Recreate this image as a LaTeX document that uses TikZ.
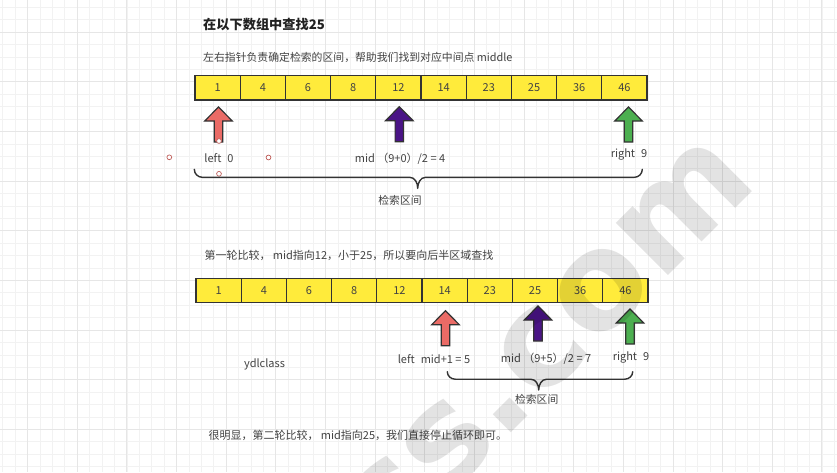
\documentclass[tikz,border=0pt]{standalone}
\usepackage{fontspec}
\setmainfont{Noto Sans CJK SC}
\newfontfamily\wmfont{DejaVu Sans}
\definecolor{minorc}{HTML}{F2F2F2}
\definecolor{majorc}{HTML}{E6E6E6}
\definecolor{linec}{HTML}{333333}
\definecolor{txtc}{HTML}{424242}
\definecolor{titlec}{HTML}{222222}
\definecolor{cellc}{HTML}{FFEB3B}
\definecolor{redc}{HTML}{EA6B66}
\definecolor{purc}{HTML}{4A1486}
\definecolor{grnc}{HTML}{4CAF50}
\definecolor{handlec}{HTML}{C0605C}
\begin{document}
\begin{tikzpicture}[x=1pt,y=-1pt,
  minorl/.style={draw=minorc, line width=0.9pt},
  majorl/.style={draw=majorc, line width=1pt},
  cell/.style={draw=linec, line width=1.3pt, fill=cellc, minimum width=45.2pt, minimum height=24.5pt, inner sep=0pt, text=txtc, font=\fontsize{11}{13}\selectfont},
  txt/.style={text=txtc, inner sep=0pt, font=\fontsize{11}{13}\selectfont},
  small/.style={text=txtc, inner sep=0pt, font=\fontsize{10.8}{12}\selectfont},
  brace/.style={draw=linec, line width=1.4pt, line cap=round},
  handle/.style={circle, draw=handlec, line width=0.7pt, fill=white, minimum size=4.8pt, inner sep=0pt},
  pics/uparr/.style={code={\draw[line width=1.2pt, draw=linec, fill=#1, line join=miter] (0,0) -- (13.8,14) -- (4.2,14) -- (4.2,35) -- (-4.2,35) -- (-4.2,14) -- (-13.8,14) -- cycle;}}
]
\useasboundingbox (0,0) rectangle (837,472);
\clip (0,0) rectangle (837,472);
\fill[white] (0,0) rectangle (837,472);
% grid
\foreach \i in {-2,...,65} \draw[minorl] ({27.7+12.41*\i},0) -- ({27.7+12.41*\i},472);
\foreach \i in {-2,...,35} \draw[minorl] (0,{32.3+12.41*\i}) -- (837,{32.3+12.41*\i});
\foreach \j in {0,...,16} \draw[majorl] ({27.7+49.64*\j},0) -- ({27.7+49.64*\j},472);
\foreach \j in {0,...,8} \draw[majorl] (0,{32.3+49.64*\j}) -- (837,{32.3+49.64*\j});

% texts
\node[anchor=west, inner sep=0pt, text=titlec, font=\fontsize{13.2}{15}\selectfont\bfseries] (title) at (203,24.5) {在以下数组中查找25};
\node[txt, anchor=west, font=\fontsize{10.85}{13}\selectfont] (sub) at (203,57) {左右指针负责确定检索的区间，帮助我们找到对应中间点 middle};

% array 1
\foreach \v [count=\i from 0] in {1,4,6,8,12,14,23,25,36,46}
  \node[cell] (ra\i) at ({217.6+45.2*\i},87.7) {\v};

% arrows row 1
\pic at (218.5,107) {uparr=redc};
\pic at (399.3,106.7) {uparr=purc};
\pic at (628.5,107) {uparr=grnc};

% labels row 1
\node[txt] (l1) at (219,158) {left\hspace{6pt}0};
\node[txt] (m1) at (400,158.3) {mid （9+0）/2 = 4};
\node[txt] (g1) at (629,154.3) {right\hspace{6pt}9};

% selection handles
\node[handle] (h0) at (219,141) {};
\node[handle] (h1) at (169.3,157.3) {};
\node[handle] (h2) at (268.5,157.5) {};
\node[handle] (h3) at (219,173.8) {};

% brace 1
\coordinate (b1l) at (194.3,169.3);
\coordinate (b1t) at (417.7,188.3);
\coordinate (b1r) at (642.3,169.3);
\draw[brace] (b1l) to[out=-90,in=180] ++(8,8) -- (409.7,177.3) to[out=0,in=90] (b1t)
  (b1t) to[out=90,in=180] (425.7,177.3) -- (634.3,177.3) to[out=0,in=-90] (b1r);
\node[small] (s1) at (400,200) {检索区间};

% text 2
\node[txt, anchor=west] (t2) at (204.3,255) {第一轮比较， mid指向12，小于25，所以要向后半区域查找};

% array 2
\foreach \v [count=\i from 0] in {1,4,6,8,12,14,23,25,36,46}
  \node[cell] (rb\i) at ({218.6+45.2*\i},290.5) {\v};

% arrows row 2
\pic at (445.5,310.7) {uparr=redc};
\pic at (538,306) {uparr=purc};
\pic at (630,309) {uparr=grnc};

% labels row 2
\node[txt] (l2) at (434,359) {left\hspace{6pt}mid+1 = 5};
\node[txt] (m2) at (546,358.3) {mid （9+5）/2 = 7};
\node[txt] (g2) at (631,357.3) {right\hspace{6pt}9};
\node[txt] (yd) at (264.5,364) {ydlclass};

% brace 2
\coordinate (b2l) at (447.3,371.7);
\coordinate (b2t) at (538.7,390);
\coordinate (b2r) at (632.7,371.7);
\draw[brace] (b2l) to[out=-90,in=180] ++(8,7.5) -- (530.7,379.2) to[out=0,in=90] (b2t)
  (b2t) to[out=90,in=180] (546.7,379.2) -- (624.7,379.2) to[out=0,in=-90] (b2r);
\node[small] (s2) at (536.7,399) {检索区间};

% bottom text
\node[txt, anchor=west] (t3) at (208.3,435) {很明显，第二轮比较， mid指向25，我们直接停止循环即可。};

% watermark
\node[rotate=45, anchor=base east, inner sep=0pt, text=black, text opacity=0.11, font=\fontsize{135}{135}\selectfont\wmfont\bfseries] (wm) at (760,184) {ss.com};
\end{tikzpicture}
\end{document}
